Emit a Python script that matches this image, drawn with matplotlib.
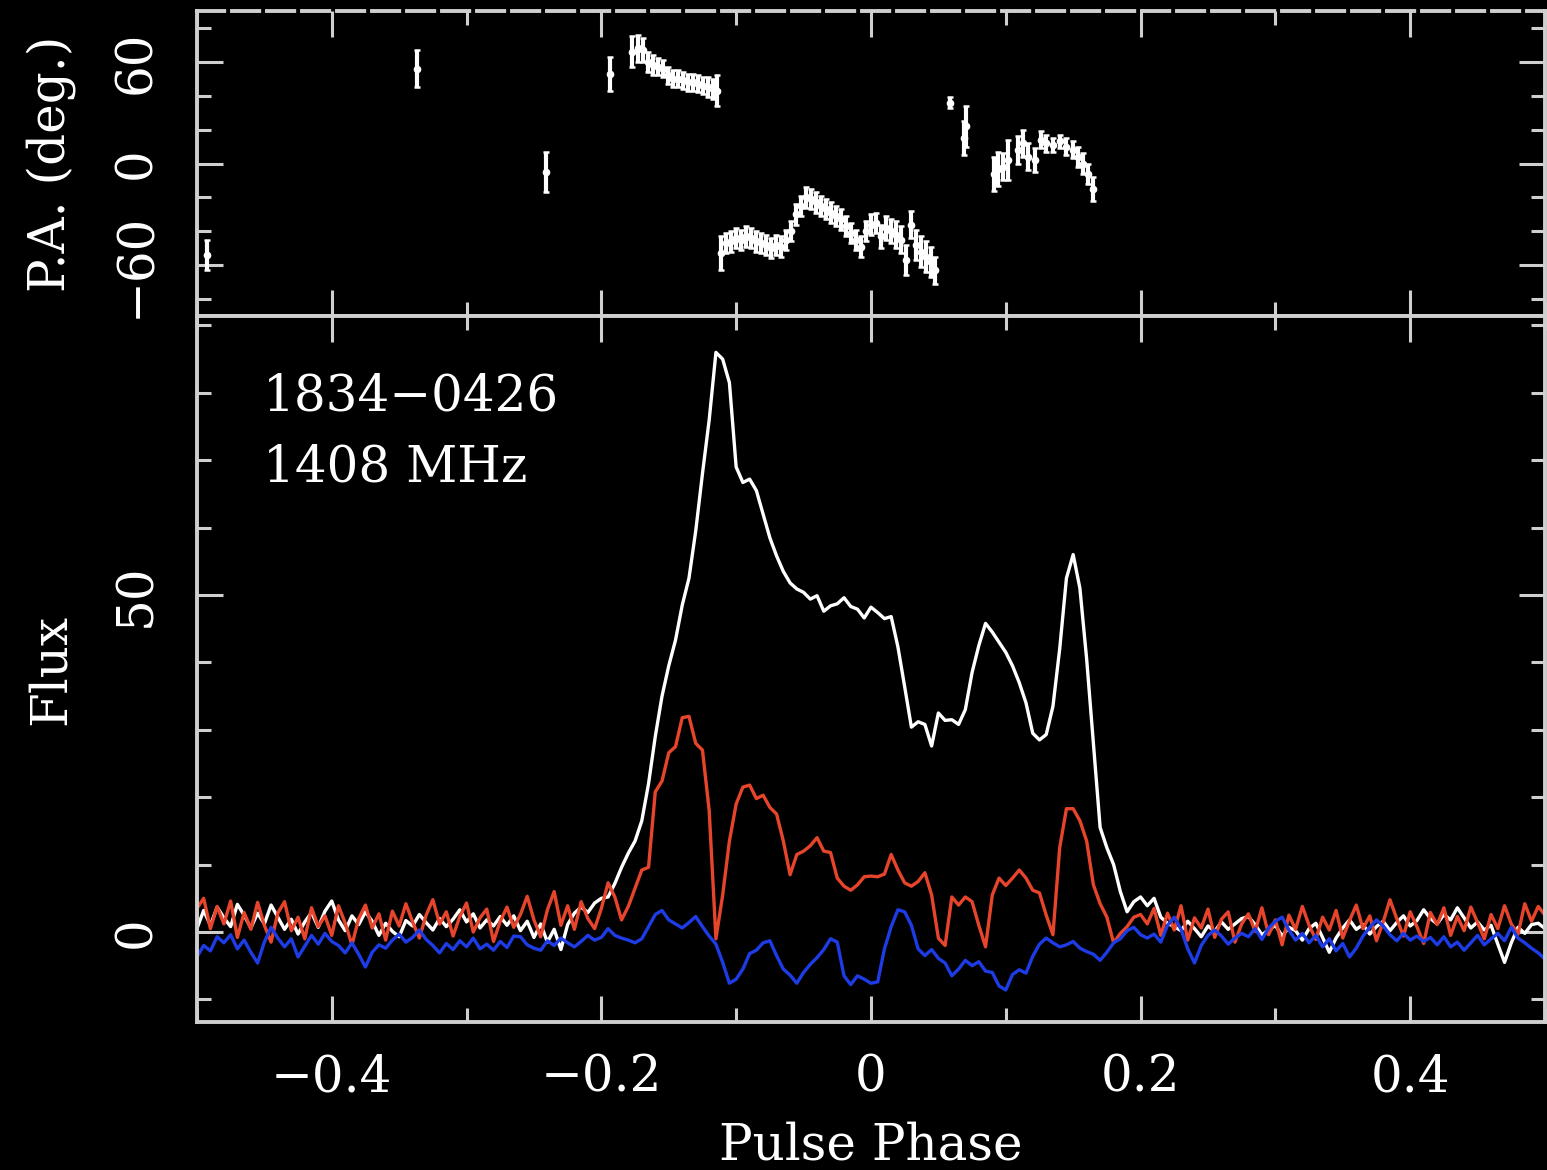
import numpy as np
import matplotlib.pyplot as plt
from matplotlib.ticker import MultipleLocator, FixedLocator, FuncFormatter

plt.rcParams['font.family'] = ['DejaVu Serif']

# Pulse phase bins
phase = np.linspace(-0.5, 0.5, 201)

# Total intensity (white)
flux_i = np.array([
    0.5, 3.2, 1.0, 3.7, 2.1, 0.8, 4.1, 2.5, 0.6, 2.8,
    1.2, 4.0, 2.2, 0.4, 1.9, -0.3, 1.5, 2.9, 0.7, 3.1,
    4.6, 1.8, 0.2, 2.4, 1.1, 3.0, 1.6, -0.5, 1.3, 0.1,
    -0.7, 1.7, 0.9, 2.6, 1.4, 0.3, 2.0, 0.8, 1.9, 3.3,
    1.5, 2.7, 0.6, 1.8, 0.9, 2.3, 1.0, 2.4, 0.2, 1.6,
    -0.8, 1.2, -1.5, 0.4, -2.6, 1.1, 2.8, 3.7, 2.9, 4.3,
    5.0, 5.2, 7.2, 9.6, 11.7, 13.5, 16.5, 22.0, 29.0, 35.0,
    39.5, 43.3, 48.5, 52.5, 59.5, 68.0, 76.0, 86.0, 85.0, 81.5,
    69.0, 66.7, 67.2, 65.5, 62.0, 58.5, 55.8, 53.5, 51.8, 50.9,
    50.4, 49.4, 49.9, 47.6, 48.4, 48.7, 49.6, 48.3, 47.9, 46.6,
    48.2, 47.4, 46.5, 46.8, 42.3, 36.4, 30.4, 31.2, 30.8, 27.6,
    32.5, 31.4, 31.5, 30.8, 33.0, 38.5, 42.5, 45.8, 44.5, 43.0,
    41.5, 39.5, 37.0, 34.0, 29.5, 28.5, 29.3, 33.5, 42.0, 52.5,
    56.0, 51.0, 40.5, 28.0, 15.5, 12.5, 10.0, 6.0, 3.0, 4.5,
    5.2, 3.9, 5.0, 2.2, 1.3, 0.8, 0.2, 1.6, 0.5, -0.7,
    0.9, 0.1, 1.5, 0.4, 1.2, 2.0, 2.3, 1.1, -0.4, 0.3,
    1.0, -0.6, 0.7, 0.2, -1.2, 0.5, 1.3, -0.8, -3.0, -0.9,
    0.6, 1.8, 0.4, 1.1, -0.3, 0.8, 1.6, 0.2, 1.4, 2.4,
    0.9, 1.7, 3.3, 2.0, 1.2, 2.6, 1.8, 3.6, 2.1, 0.6,
    1.5, 0.3, 1.0, -1.8, -4.5, -1.6, 0.7, -0.2, 1.1, 1.3,
    0.5,
])

# Linear polarisation (red)
flux_l = np.array([
    3.5, 5.0, 0.5, 3.8, 1.2, 4.6, -0.8, 2.9, 0.4, 4.4,
    1.0, -1.5, 2.8, 4.5, 0.2, 2.2, -1.0, 3.6, 0.8, 2.4,
    -0.5, 3.9, 1.3, -1.9, 2.0, 4.0, 0.6, 2.7, -1.2, 3.1,
    0.9, 4.2, 1.5, -0.9, 2.5, 4.8, 1.2, 3.0, -0.6, 2.3,
    4.3, 0.0, 2.1, 3.4, -1.4, 1.6, 3.7, 0.7, 2.6, 5.3,
    1.8, -0.7, 3.3, 6.0, 1.0, 3.9, 0.4, 4.5, 2.0, 0.5,
    3.5, 7.3, 5.2, 1.8, 3.8, 6.5, 9.2, 9.6, 20.8, 22.4,
    26.6, 27.5, 31.8, 32.0, 28.0, 27.0, 18.0, -1.0, 5.5, 13.5,
    19.0, 21.5, 21.8, 19.8, 20.3, 18.5, 17.5, 13.5, 8.5, 11.5,
    12.0, 12.8, 14.0, 12.0, 11.8, 8.0, 6.8, 6.2, 7.0, 8.2,
    8.3, 8.2, 8.6, 11.5, 9.2, 7.3, 6.8, 7.5, 8.8, 5.5,
    -0.9, -2.0, 5.2, 4.0, 5.2, 4.5, 1.0, -2.2, 5.5, 8.0,
    6.9, 8.0, 9.2, 8.0, 6.2, 5.8, 2.5, -0.4, 12.5, 18.3,
    18.3, 16.5, 13.5, 7.0, 4.2, 2.2, -1.6, -0.2, 0.8, 2.2,
    2.6, 1.2, 3.5, -0.5, 2.8, 0.3, 3.9, -1.2, 2.1, 0.6,
    3.4, -0.8, 1.9, 3.0, -1.5, 1.2, 2.7, 0.1, 3.6, -0.4,
    1.8, -1.9, 2.5, 0.4, 3.8, 1.0, -1.1, 2.2, 0.3, 3.2,
    -0.9, 1.7, 4.0, 0.5, 2.4, -1.3, 1.5, 4.8, 2.0, -0.6,
    3.0, 0.8, -1.7, 2.9, 1.1, 3.6, -0.5, 2.3, 0.2, 3.7,
    1.4, -1.0, 2.6, 0.5, 3.9, 1.2, -0.3, 4.2, 1.6, 3.8,
    2.5,
])

# Circular polarisation (blue)
flux_v = np.array([
    -3.7, -2.0, -2.8, -0.7, -1.6, -0.4, -2.5, -1.2, -3.0, -4.6,
    -1.5, 0.7, -0.9, -2.2, -1.0, -3.7, -2.1, -0.5, -1.8, -0.2,
    -1.4, -2.0, -3.1, -1.6, -3.3, -5.2, -3.0, -1.9, -2.4, -1.2,
    -0.3, -1.5, -0.8, 0.3, -1.1, -2.0, -3.1, -1.7, -2.6, -1.3,
    -2.2, -0.9, -2.5, -1.8, -2.7, -1.4, -2.3, -0.6, -0.7, -1.9,
    -2.4, -2.7, -1.3, -2.0, -0.9, -1.6, -2.2, -1.4, -0.5, -1.2,
    -0.8, 0.5, -0.5, -0.9, -1.2, -1.6, -1.0, 0.8, 2.6, 3.2,
    1.8, 1.2, 0.6, 1.4, 2.3, 0.8, -0.6, -1.8, -4.5, -7.6,
    -7.0, -5.5, -3.2, -2.7, -1.6, -1.3, -3.5, -5.5, -6.4, -7.6,
    -6.0, -4.8, -3.8, -2.6, -1.0, -1.5, -6.5, -7.8, -6.5, -7.0,
    -7.6, -7.4, -2.5, 0.8, 3.3, 3.0, 1.0, -2.5, -3.5, -2.6,
    -3.9, -4.6, -6.5, -5.5, -4.2, -5.0, -4.4, -5.8, -6.0, -8.0,
    -8.6, -6.3, -5.6, -6.1, -3.6, -1.8, -0.9, -1.6, -2.2, -1.9,
    -1.4, -2.4, -2.9, -3.3, -4.2, -3.0, -1.6, -1.0, 0.2, 0.7,
    -0.4, -0.9, -0.3, -1.5, 1.0, 2.2, 0.4, -2.5, -4.6, -2.0,
    -0.5, 0.3, -0.6, -1.8, -0.9, -0.2, -0.7, 0.5, -1.1, 0.6,
    1.6, 2.2, 0.3, -1.2, -0.2, -1.6, -0.5, -2.2, -1.0, -2.8,
    -1.7, -3.7, -2.4, -0.6, 0.7, 1.8, 0.9, -0.4, -1.3, -0.2,
    -1.2, -0.6, -1.4, -0.8, -1.9, -0.7, -2.2, -1.5, -2.7, -1.6,
    -0.5, -1.9, -1.0, -0.2, -1.3, 0.7, -0.9, -1.6, -2.4, -3.1,
    -4.0,
])

# Position angle points
pa_phase = [
    -0.4926, -0.3370, -0.2407, -0.1933,
    -0.1770, -0.1726, -0.1689, -0.1652, -0.1615, -0.1578, -0.1541, -0.1504, -0.1467,
    -0.1430, -0.1393, -0.1356, -0.1319, -0.1281, -0.1244, -0.1207, -0.1170, -0.1141,
    -0.1111, -0.1074, -0.1037, -0.1000, -0.0963, -0.0926, -0.0889, -0.0852, -0.0815,
    -0.0778, -0.0741, -0.0704, -0.0667, -0.0630, -0.0593, -0.0556, -0.0519, -0.0481,
    -0.0444, -0.0407, -0.0370, -0.0333, -0.0296, -0.0259, -0.0222, -0.0185, -0.0148,
    -0.0111, -0.0074, -0.0037, 0.0000, 0.0037, 0.0074, 0.0111, 0.0148, 0.0185,
    0.0222, 0.0259, 0.0296, 0.0333, 0.0370, 0.0407, 0.0444, 0.0474,
    0.0585, 0.0689, 0.0704, 0.0911, 0.0941, 0.0978, 0.1015, 0.1089, 0.1126, 0.1163,
    0.1215, 0.1259, 0.1296, 0.1348, 0.1400, 0.1444, 0.1496, 0.1533, 0.1570, 0.1607,
    0.1644,
]
pa_deg = [
    -54, 56, -5, 53,
    66, 68, 67, 60, 58, 57, 56, 52, 50,
    50, 49, 48, 48, 47, 46, 45, 44, 43,
    -53, -47, -46, -44, -45, -43, -44, -46, -47,
    -48, -50, -48, -49, -45, -40, -30, -25, -20,
    -21, -23, -25, -27, -29, -31, -33, -37, -41,
    -45, -49, -40, -36, -35, -43, -38, -40, -42,
    -45, -57, -36, -48, -52, -55, -58, -63,
    36, 15, 22, -6, -3, -2, 2, 8, 12, 4,
    2, 14, 12, 11, 13, 10, 8, 4, 0, -6,
    -15,
]
pa_err = [
    9, 11, 12, 10,
    9, 8, 7, 6, 6, 5, 5, 5, 5,
    5, 5, 5, 5, 5, 5, 6, 6, 9,
    10, 6, 6, 6, 6, 6, 6, 6, 6,
    6, 6, 6, 6, 6, 6, 6, 6, 6,
    6, 6, 6, 6, 6, 6, 6, 6, 6,
    6, 6, 6, 6, 6, 7, 7, 7, 8,
    8, 9, 8, 9, 9, 9, 9, 8,
    3, 10, 12, 10, 10, 8, 12, 8, 8, 8,
    7, 5, 5, 4, 4, 5, 5, 6, 6, 6,
    7,
]

axis_col = '#cfcfcf'
fs = 36

fig = plt.figure(figsize=(15.47, 11.70), dpi=100, facecolor='black')
ax_pa = fig.add_axes([0.1273, 0.7299, 0.8714, 0.2607])
ax_fl = fig.add_axes([0.1273, 0.1265, 0.8714, 0.6034])


def style(ax):
    ax.set_facecolor('black')
    for s in ax.spines.values():
        s.set_color(axis_col)
        s.set_linewidth(2.8)
    ax.tick_params(which='both', direction='in', top=True, right=True,
                   color=axis_col, width=2.2, labelcolor='white', labelsize=fs)
    ax.tick_params(which='major', length=19)
    ax.tick_params(which='minor', length=10)
    ax.tick_params(axis='y', labelrotation=90, pad=26)
    ax.tick_params(axis='x', pad=22)
    ax.set_xlim(-0.5, 0.5)
    ax.xaxis.set_major_locator(MultipleLocator(0.2))
    ax.xaxis.set_minor_locator(MultipleLocator(0.1))


def phase_fmt(v, pos):
    if abs(v) < 1e-9:
        return '0'
    return f'{v:.1f}'.replace('-', '\u2212')


# P.A. panel
style(ax_pa)
ax_pa.spines['top'].set_linestyle((0, (7, 2)))
ax_pa.set_ylim(-90, 90)
ax_pa.yaxis.set_major_locator(FixedLocator([-60, 0, 60]))
ax_pa.yaxis.set_minor_locator(MultipleLocator(20))
ax_pa.tick_params(labelbottom=False)
ax_pa.errorbar(pa_phase, pa_deg, yerr=pa_err, fmt='none', ecolor='white',
               elinewidth=3.0, capsize=2.0, capthick=1.8)
ax_pa.plot(pa_phase, pa_deg, 'o', color='white', ms=4.5)
ax_pa.set_ylabel('P.A. (deg.)', color='white', fontsize=fs)
ax_pa.yaxis.set_label_coords(-0.09, 0.5)

# Flux panel
style(ax_fl)
ax_fl.set_ylim(-13.35, 91.4)
ax_fl.yaxis.set_major_locator(MultipleLocator(50))
ax_fl.yaxis.set_minor_locator(MultipleLocator(10))
ax_fl.xaxis.set_major_formatter(FuncFormatter(phase_fmt))
ax_fl.plot(phase, flux_i, color='white', lw=2.4)
ax_fl.plot(phase, flux_l, color='#e6452b', lw=2.4)
ax_fl.plot(phase, flux_v, color='#1e3ce6', lw=2.4)
ax_fl.text(-0.451, 77.4, '1834\u22120426', color='white', fontsize=fs, va='baseline')
ax_fl.text(-0.451, 66.9, '1408 MHz', color='white', fontsize=fs, va='baseline')
ax_fl.set_ylabel('Flux', color='white', fontsize=fs)
ax_fl.yaxis.set_label_coords(-0.09, 0.5)
ax_fl.set_xlabel('Pulse Phase', color='white', fontsize=fs)
ax_fl.xaxis.set_label_coords(0.5, -0.140)

for ax in (ax_pa, ax_fl):
    plt.setp(ax.get_yticklabels(), va='center')

fig.savefig('out.png', dpi=100, facecolor='black')
